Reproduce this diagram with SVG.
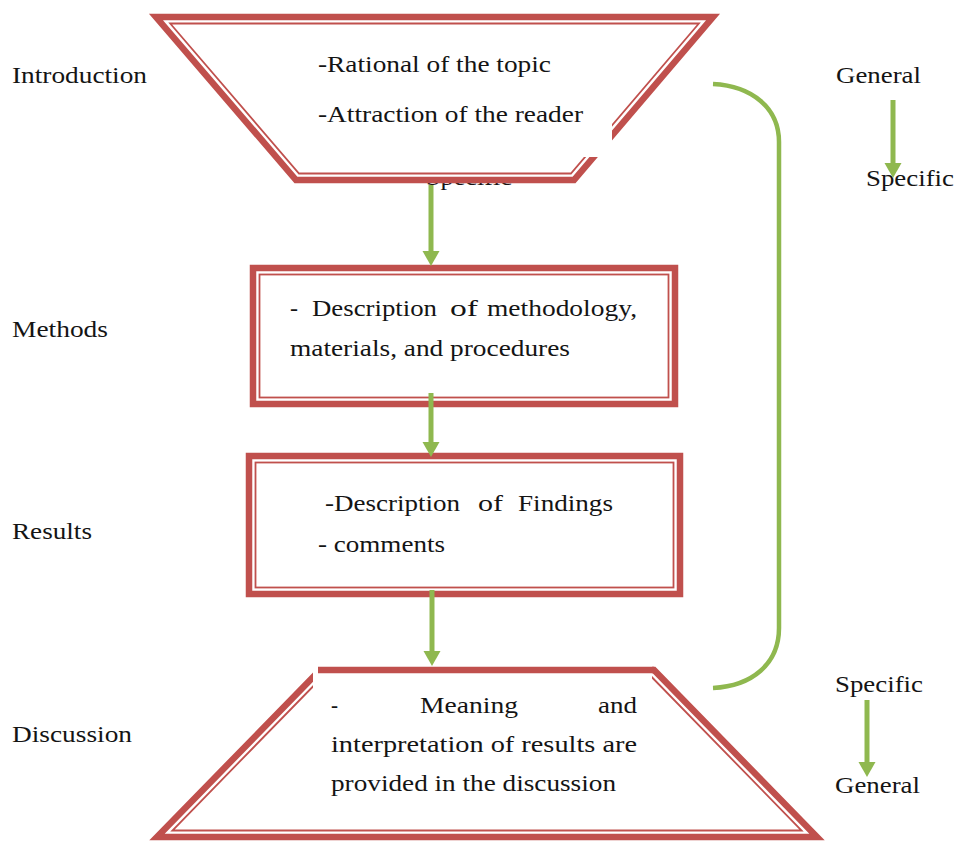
<svg xmlns="http://www.w3.org/2000/svg" width="955" height="843" viewBox="0 0 955 843">
  <style>
    text { font-family: "Liberation Serif", "Times New Roman", serif; font-size: 23.5px; fill: #141414; }
    .thick { fill: none; stroke: #C0504D; stroke-width: 6.5; stroke-linejoin: miter; }
    .thin { fill: none; stroke: #C0504D; stroke-width: 1.8; }
    .paper { fill: #FFFFFF; stroke: none; }
    .flow { fill: none; stroke: #8FB84F; stroke-width: 5; }
    .brace { fill: none; stroke: #8FB84F; stroke-width: 4.5; }
  </style>
  <defs>
    <marker id="head" markerUnits="userSpaceOnUse" markerWidth="18" markerHeight="18" refX="1" refY="8.5" orient="auto">
      <path d="M0,0 L15,8.5 L0,17 Z" fill="#8FB84F"/>
    </marker>
  </defs>

  <rect width="955" height="843" fill="#FFFFFF"/>

  <!-- section labels on the left -->
  <g id="section-labels">
    <text x="12" y="83" textLength="135" lengthAdjust="spacingAndGlyphs">Introduction</text>
    <text x="12" y="337" textLength="96" lengthAdjust="spacingAndGlyphs">Methods</text>
    <text x="12" y="539" textLength="80" lengthAdjust="spacingAndGlyphs">Results</text>
    <text x="12" y="742" textLength="120" lengthAdjust="spacingAndGlyphs">Discussion</text>
  </g>

  <!-- Introduction: inverted trapezoid -->
  <g id="introduction">
    <text x="426" y="185" textLength="86" lengthAdjust="spacingAndGlyphs">Specific</text>
    <polygon class="paper" points="156,17 713,17 574,180 296,180"/>
    <polygon class="thick" points="156,17 713,17 574,180 296,180"/>
    <polygon class="thin" points="170.2,23.5 698.9,23.5 570.9,173.5 299,173.5"/>
    <rect class="paper" x="300" y="32" width="312" height="125"/>
    <text x="318" y="72" textLength="233" lengthAdjust="spacingAndGlyphs">-Rational of the topic</text>
    <text x="318" y="122" textLength="265" lengthAdjust="spacingAndGlyphs">-Attraction of the reader</text>
  </g>

  <!-- Methods box -->
  <g id="methods">
    <rect class="paper" x="253" y="268" width="422" height="136"/>
    <rect class="thick" x="253" y="268" width="422" height="136"/>
    <rect class="thin" x="259.5" y="274.5" width="409" height="123"/>
    <text x="290" y="316" textLength="8" lengthAdjust="spacingAndGlyphs">-</text>
    <text x="312" y="316" textLength="125" lengthAdjust="spacingAndGlyphs">Description</text>
    <text x="450" y="316" textLength="28" lengthAdjust="spacingAndGlyphs">of</text>
    <text x="487" y="316" textLength="150" lengthAdjust="spacingAndGlyphs">methodology,</text>
    <text x="290" y="356" textLength="280" lengthAdjust="spacingAndGlyphs">materials, and procedures</text>
  </g>

  <!-- Results box -->
  <g id="results">
    <rect class="paper" x="249" y="456" width="431" height="138"/>
    <rect class="thick" x="249" y="456" width="431" height="138"/>
    <rect class="thin" x="255.5" y="462.5" width="418" height="125"/>
    <text x="325" y="511" textLength="135" lengthAdjust="spacingAndGlyphs">-Description</text>
    <text x="478" y="511" textLength="25" lengthAdjust="spacingAndGlyphs">of</text>
    <text x="518" y="511" textLength="95" lengthAdjust="spacingAndGlyphs">Findings</text>
    <text x="318" y="552" textLength="127" lengthAdjust="spacingAndGlyphs">- comments</text>
  </g>

  <!-- Discussion: upright trapezoid -->
  <g id="discussion">
    <polygon class="paper" points="320,670 654,670 817,837 157,837"/>
    <polygon class="thick" points="320,670 654,670 817,837 157,837"/>
    <polygon class="thin" points="322.7,676.5 651.2,676.5 801.6,830.5 172.4,830.5"/>
    <rect class="paper" x="313" y="666" width="339" height="140"/>
    <line x1="318" y1="670" x2="654" y2="670" stroke="#C0504D" stroke-width="6.5"/>
    <text x="331" y="713" textLength="7" lengthAdjust="spacingAndGlyphs">-</text>
    <text x="420" y="713" textLength="98" lengthAdjust="spacingAndGlyphs">Meaning</text>
    <text x="598" y="713" textLength="39" lengthAdjust="spacingAndGlyphs">and</text>
    <text x="331" y="752" textLength="306" lengthAdjust="spacingAndGlyphs">interpretation of results are</text>
    <text x="331" y="791" textLength="285" lengthAdjust="spacingAndGlyphs">provided in the discussion</text>
  </g>

  <!-- direction notes on the right -->
  <g id="general-to-specific">
    <text x="836" y="83" textLength="85" lengthAdjust="spacingAndGlyphs">General</text>
    <text x="866" y="186" textLength="88" lengthAdjust="spacingAndGlyphs">Specific</text>
  </g>
  <g id="specific-to-general">
    <text x="835" y="692" textLength="88" lengthAdjust="spacingAndGlyphs">Specific</text>
    <text x="835" y="793" textLength="85" lengthAdjust="spacingAndGlyphs">General</text>
  </g>

  <!-- connectors -->
  <g id="connectors">
    <line class="flow" x1="431" y1="185" x2="431" y2="252" marker-end="url(#head)"/>
    <line class="flow" x1="431" y1="393" x2="431" y2="443" marker-end="url(#head)"/>
    <line class="flow" x1="432" y1="590" x2="432" y2="652" marker-end="url(#head)"/>
    <path class="brace" d="M713,84 C752,86 779,108 779,142 L779,628 C779,664 752,686 713,688"/>
    <line class="flow" x1="893" y1="100" x2="893" y2="164" marker-end="url(#head)"/>
    <line class="flow" x1="867" y1="700" x2="867" y2="763" marker-end="url(#head)"/>
  </g>
</svg>
